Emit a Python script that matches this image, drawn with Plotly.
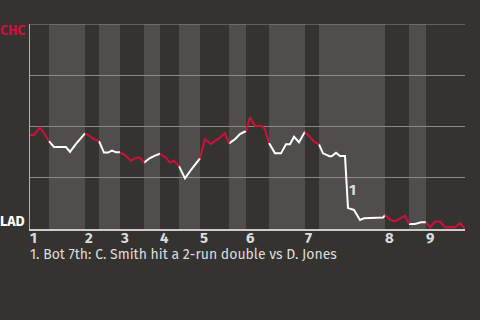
import plotly.graph_objects as go

# Game progress (event position along the game) and CHC win probability
progress = [0, 4, 10, 14, 19, 24, 29, 36, 40, 46, 55, 58, 64, 69, 74, 78, 82, 86, 90,
            95, 101, 106, 110, 114, 120, 125, 130, 136, 140, 144, 149, 155, 161, 170,
            175, 181, 187, 191, 195, 199, 205, 210, 216, 220, 225, 232, 235, 239, 245,
            251, 256, 260, 264, 269, 275, 278, 284, 289, 293, 300, 302, 306, 310, 315,
            316, 318, 324, 330, 334, 340, 346, 353, 355, 360, 365, 370, 375, 379, 385,
            391, 396, 400, 405, 410, 415, 425, 430, 435]
chc_win_prob = [0.459, 0.459, 0.494, 0.468, 0.429, 0.400, 0.400, 0.400, 0.376, 0.415,
                0.466, 0.459, 0.439, 0.429, 0.373, 0.373, 0.382, 0.374, 0.374,
                0.361, 0.333, 0.348, 0.348, 0.324, 0.346, 0.358, 0.367, 0.348, 0.324,
                0.333, 0.307, 0.247, 0.288, 0.345,
                0.438, 0.415, 0.434, 0.450, 0.467, 0.418, 0.438, 0.463, 0.478, 0.545,
                0.502, 0.502, 0.486, 0.420, 0.369,
                0.369, 0.413, 0.413, 0.450, 0.423, 0.475, 0.459, 0.426, 0.413, 0.369,
                0.354, 0.356, 0.372, 0.356, 0.356,
                0.263, 0.102, 0.093, 0.044, 0.052, 0.054, 0.054, 0.056, 0.068, 0.046,
                0.037, 0.052, 0.065, 0.024, 0.024,
                0.033, 0.033, 0.008, 0.036, 0.036, 0.008, 0.008, 0.028, 0.0]

# Half-inning boundaries (top 1, bot 1, top 2, ... top 9, end)
half_inning_bounds = [0, 19, 55, 69, 90, 114, 130, 149, 170, 199, 216, 239, 275, 289,
                      355, 379, 396, 435]
inning_labels = ["1", "2", "3", "4", "5", "6", "7", "8", "9"]

note_marker = "1"
note_progress = 322
note_prob = 0.19
footnote = "1. Bot 7th: C. Smith hit a 2-run double vs D. Jones"
team_top = "CHC"
team_bottom = "LAD"

BG = "#353330"
BAND = "#4f4e4c"
RED = "#d0103a"
WHITE = "#ffffff"
TEXT = "#dddddd"
FONT = "Fira Sans, Noto Sans, sans-serif"

fig = go.Figure()

# Split the line into half-inning segments: tops red (CHC batting), bottoms white
red_x, red_y, white_x, white_y = [], [], [], []
for i in range(len(half_inning_bounds) - 1):
    a, b = half_inning_bounds[i], half_inning_bounds[i + 1]
    seg = [(x, y) for x, y in zip(progress, chc_win_prob) if a <= x <= b]
    xs = [s[0] for s in seg] + [None]
    ys = [s[1] for s in seg] + [None]
    if i % 2 == 0:
        red_x += xs; red_y += ys
    else:
        white_x += xs; white_y += ys

fig.add_trace(go.Scatter(x=white_x, y=white_y, mode="lines",
                         line=dict(color=WHITE, width=2), hoverinfo="skip",
                         showlegend=False))
fig.add_trace(go.Scatter(x=red_x, y=red_y, mode="lines",
                         line=dict(color=RED, width=2), hoverinfo="skip",
                         showlegend=False))

shapes = []
for i in range(1, len(half_inning_bounds) - 1, 2):
    shapes.append(dict(type="rect", xref="x", yref="paper",
                       x0=half_inning_bounds[i], x1=half_inning_bounds[i + 1],
                       y0=0, y1=1, fillcolor=BAND, line=dict(width=0), layer="below"))
# top gridline at 100%
shapes.append(dict(type="line", xref="paper", yref="y", x0=0, x1=1, y0=1, y1=1,
                   line=dict(color="#8a8a8a", width=1), layer="below"))

annotations = []
for k, lab in enumerate(inning_labels):
    annotations.append(dict(x=half_inning_bounds[2 * k], y=-0.044, xref="x", yref="paper",
                            text=f"<b>{lab}</b>", showarrow=False, xanchor="left",
                            yanchor="middle", xshift=-2,
                            font=dict(family=FONT, size=15, color=TEXT)))
annotations.append(dict(x=note_progress, y=note_prob, xref="x", yref="y",
                        text=f"<b>{note_marker}</b>", showarrow=False,
                        font=dict(family=FONT, size=15, color=TEXT)))
annotations.append(dict(x=0, y=-0.122, xref="paper", yref="paper", text=footnote,
                        showarrow=False, xanchor="left", yanchor="middle", xshift=-2,
                        font=dict(family=FONT, size=14, color=TEXT)))
annotations.append(dict(x=-0.007, y=0.966, xref="paper", yref="paper",
                        text=f"<b>{team_top}</b>", showarrow=False, xanchor="right",
                        yanchor="middle", font=dict(family=FONT, size=14, color=RED)))
annotations.append(dict(x=-0.007, y=0.039, xref="paper", yref="paper",
                        text=f"<b>{team_bottom}</b>", showarrow=False, xanchor="right",
                        yanchor="middle", font=dict(family=FONT, size=14, color=WHITE)))

fig.update_layout(
    width=480, height=320,
    margin=dict(l=30, r=15, t=24, b=91),
    paper_bgcolor=BG, plot_bgcolor=BG,
    shapes=shapes, annotations=annotations,
    xaxis=dict(range=[0, 435], showgrid=False, zeroline=False, showticklabels=False,
               ticks="", showline=True, linecolor="#cccccc", linewidth=2),
    yaxis=dict(range=[0, 1], dtick=0.25, showgrid=True, gridcolor="#8a8a8a",
               gridwidth=1, zeroline=False, showticklabels=False, ticks="",
               showline=True, linecolor="#b0b0b0", linewidth=1),
)

fig.write_html("out.html")
